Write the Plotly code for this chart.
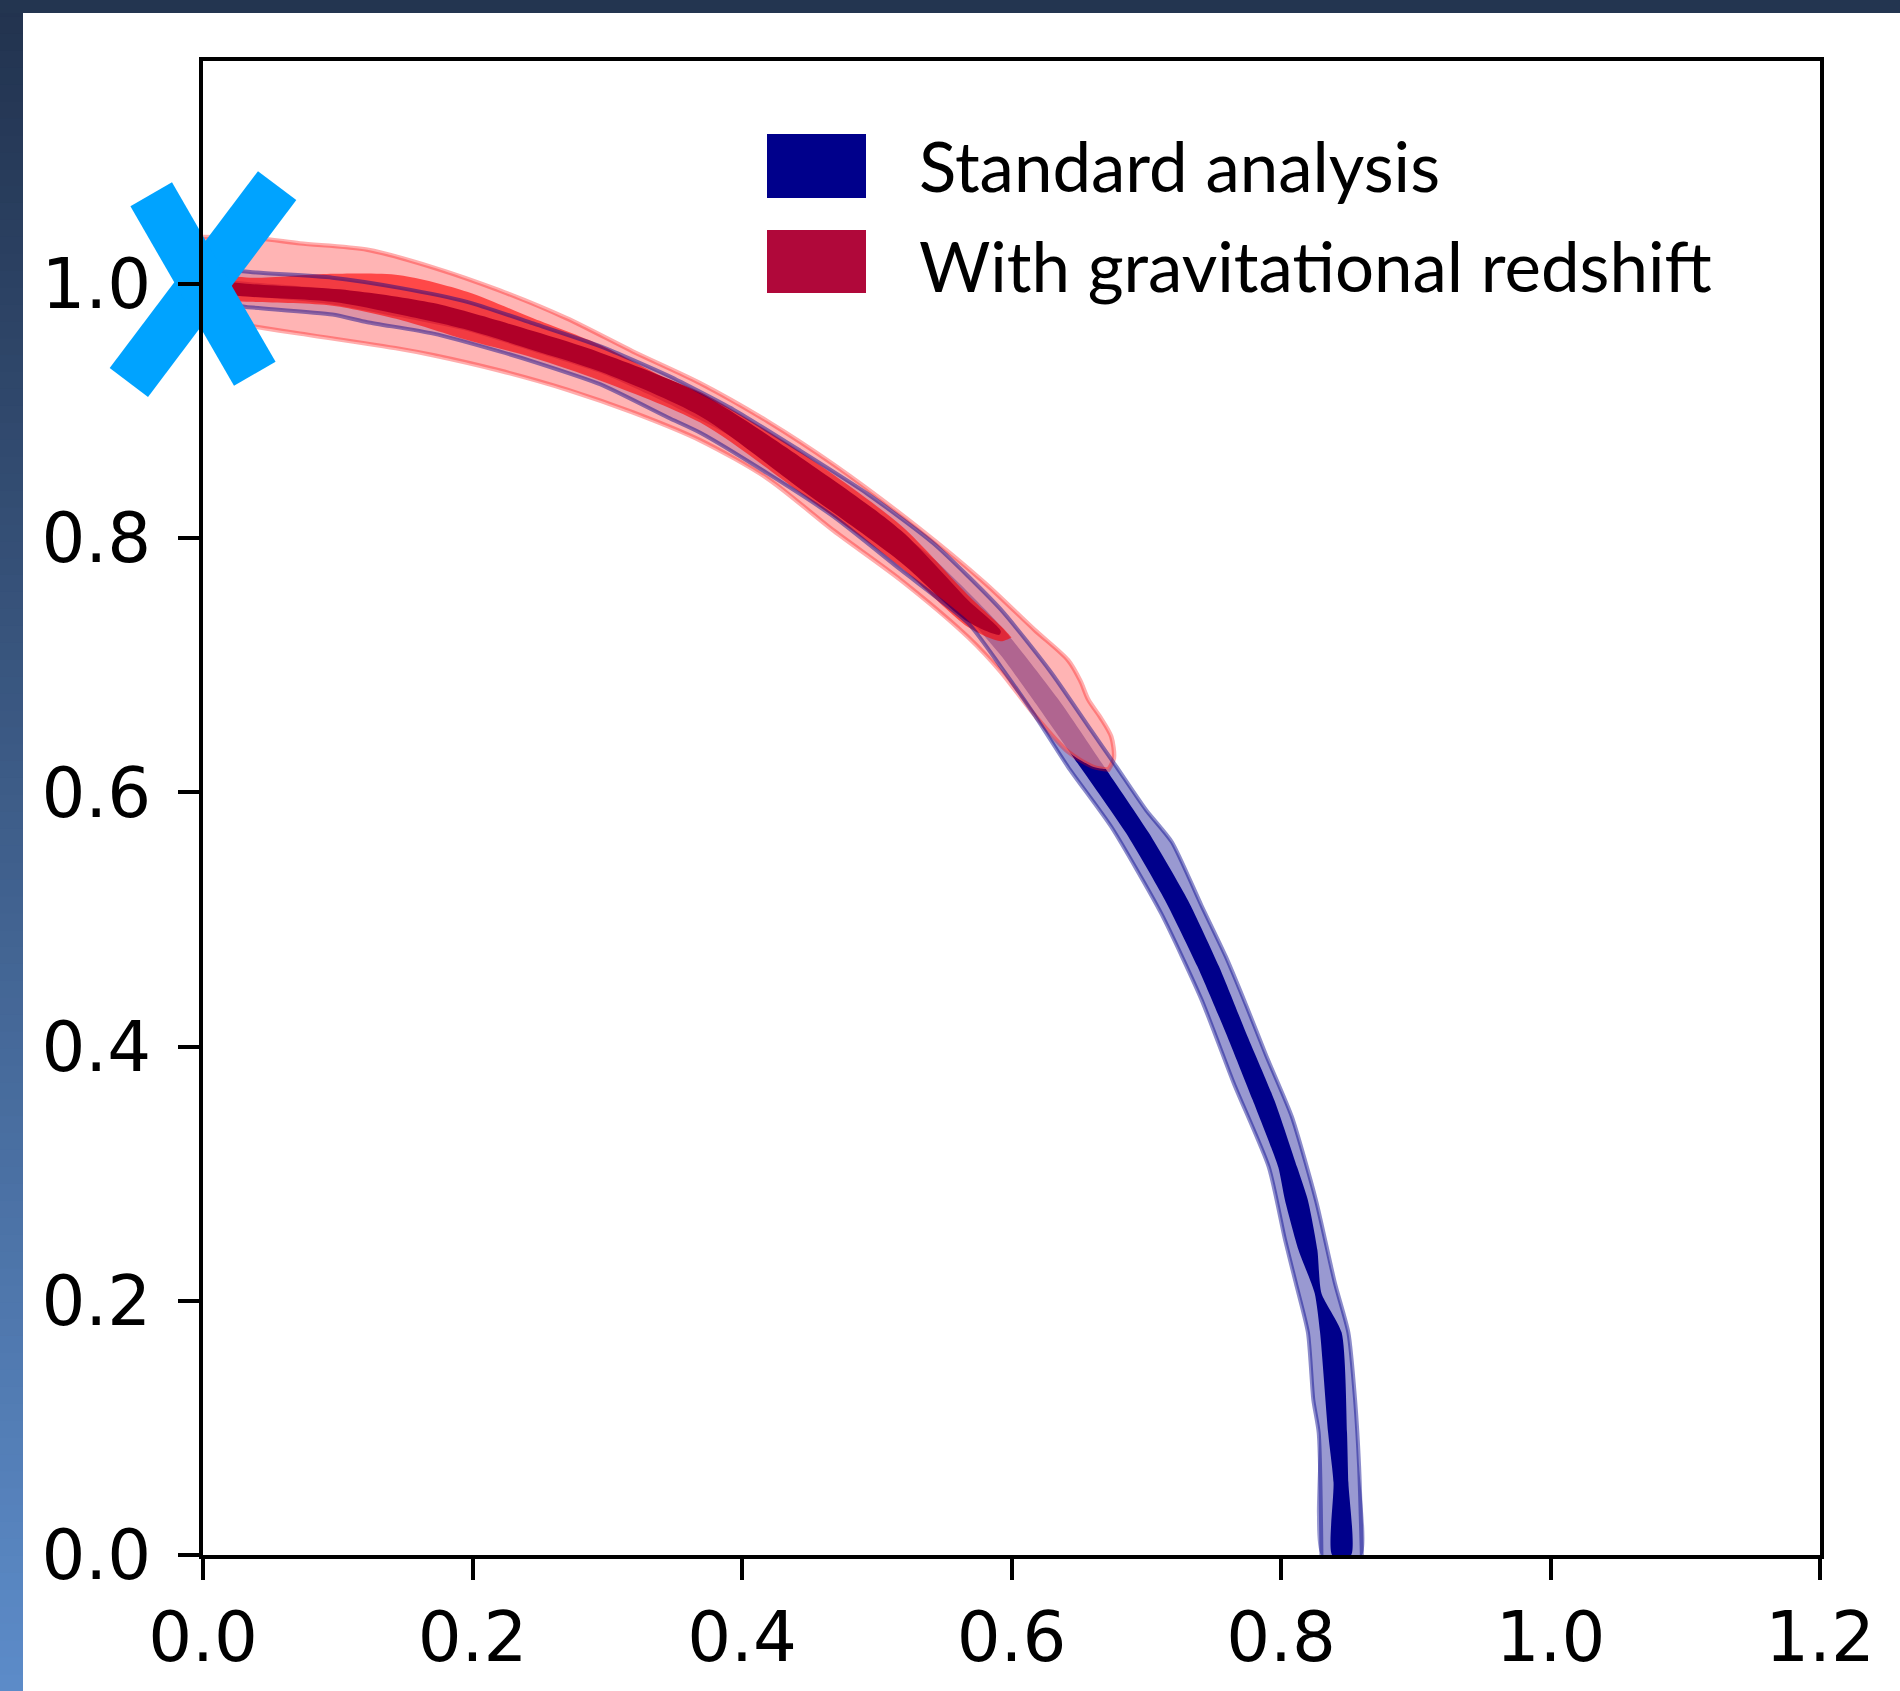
import plotly.graph_objects as go

# ---------------- data ----------------
# Standard analysis: outer (2-sigma) region edges
bo_u_x = [0.000, 0.040, 0.096, 0.146, 0.196, 0.245, 0.295, 0.345, 0.394, 0.443, 0.493, 0.542, 0.592, 0.629, 0.659, 0.678, 0.700, 0.719, 0.741, 0.759, 0.774, 0.789, 0.808, 0.826, 0.840, 0.850, 0.855, 0.858, 0.860]
bo_u_y = [1.013, 1.009, 1.005, 0.997, 0.986, 0.969, 0.951, 0.928, 0.901, 0.869, 0.835, 0.796, 0.744, 0.695, 0.649, 0.620, 0.586, 0.561, 0.511, 0.471, 0.433, 0.393, 0.345, 0.279, 0.214, 0.175, 0.122, 0.069, 0.000]
bo_l_x = [0.000, 0.032, 0.096, 0.122, 0.171, 0.220, 0.245, 0.295, 0.345, 0.369, 0.419, 0.468, 0.518, 0.568, 0.592, 0.617, 0.642, 0.674, 0.711, 0.741, 0.765, 0.791, 0.803, 0.811, 0.820, 0.824, 0.828, 0.830]
bo_l_y = [0.986, 0.982, 0.976, 0.970, 0.961, 0.947, 0.939, 0.921, 0.895, 0.883, 0.851, 0.817, 0.775, 0.733, 0.699, 0.661, 0.620, 0.573, 0.505, 0.437, 0.371, 0.305, 0.248, 0.214, 0.175, 0.122, 0.096, 0.000]

# Standard analysis: inner (1-sigma) region edges
bc_u_x = [0.000, 0.040, 0.096, 0.146, 0.196, 0.245, 0.295, 0.345, 0.394, 0.443, 0.493, 0.542, 0.592, 0.635, 0.669, 0.702, 0.731, 0.754, 0.774, 0.795, 0.812, 0.820, 0.827, 0.830, 0.845, 0.849, 0.850, 0.852]
bc_u_y = [1.005, 1.001, 0.996, 0.988, 0.977, 0.961, 0.942, 0.918, 0.891, 0.859, 0.824, 0.784, 0.731, 0.673, 0.620, 0.568, 0.515, 0.463, 0.411, 0.358, 0.305, 0.279, 0.240, 0.206, 0.175, 0.096, 0.057, 0.000]
bc_l_x = [0.000, 0.040, 0.096, 0.146, 0.196, 0.245, 0.295, 0.345, 0.394, 0.443, 0.493, 0.542, 0.592, 0.616, 0.651, 0.685, 0.714, 0.738, 0.759, 0.779, 0.798, 0.803, 0.813, 0.825, 0.829, 0.835, 0.839, 0.838]
bc_l_y = [0.993, 0.990, 0.984, 0.974, 0.963, 0.947, 0.930, 0.906, 0.879, 0.845, 0.808, 0.767, 0.708, 0.673, 0.620, 0.568, 0.515, 0.463, 0.411, 0.358, 0.305, 0.279, 0.240, 0.206, 0.175, 0.096, 0.057, 0.000]

# With gravitational redshift: outer region edges
ro_u_x = [0.000, 0.040, 0.072, 0.122, 0.171, 0.220, 0.270, 0.319, 0.369, 0.419, 0.468, 0.530, 0.580, 0.617, 0.642, 0.651, 0.657, 0.666, 0.674, 0.676, 0.672]
ro_u_y = [1.037, 1.036, 1.032, 1.027, 1.013, 0.995, 0.973, 0.947, 0.922, 0.892, 0.858, 0.809, 0.765, 0.728, 0.704, 0.688, 0.673, 0.659, 0.644, 0.627, 0.618]
ro_l_x = [0.000, 0.035, 0.072, 0.146, 0.171, 0.220, 0.270, 0.319, 0.369, 0.419, 0.468, 0.518, 0.568, 0.592, 0.617, 0.642, 0.661, 0.672]
ro_l_y = [0.973, 0.967, 0.961, 0.949, 0.944, 0.932, 0.917, 0.899, 0.877, 0.847, 0.806, 0.767, 0.722, 0.695, 0.661, 0.632, 0.620, 0.618]

# With gravitational redshift: middle region edges
rm_u_x = [0.000, 0.035, 0.092, 0.146, 0.196, 0.245, 0.295, 0.345, 0.369, 0.443, 0.518, 0.568, 0.594, 0.600]
rm_u_y = [1.009, 1.005, 1.008, 1.007, 0.994, 0.973, 0.952, 0.925, 0.915, 0.868, 0.810, 0.755, 0.729, 0.722]
rm_l_x = [0.000, 0.035, 0.096, 0.146, 0.196, 0.245, 0.295, 0.369, 0.443, 0.518, 0.568, 0.592, 0.600]
rm_l_y = [0.987, 0.986, 0.983, 0.972, 0.956, 0.942, 0.924, 0.891, 0.836, 0.777, 0.730, 0.719, 0.722]

# With gravitational redshift: core region edges
rc_u_x = [0.000, 0.035, 0.109, 0.171, 0.245, 0.295, 0.369, 0.443, 0.518, 0.568, 0.592]
rc_u_y = [1.004, 1.000, 0.995, 0.985, 0.963, 0.946, 0.914, 0.864, 0.806, 0.751, 0.727]
rc_l_x = [0.000, 0.035, 0.096, 0.146, 0.196, 0.245, 0.295, 0.369, 0.443, 0.518, 0.568, 0.591]
rc_l_y = [0.993, 0.990, 0.986, 0.976, 0.964, 0.948, 0.931, 0.896, 0.839, 0.781, 0.734, 0.724]

# reference point
marker_x = [0.0]
marker_y = [1.0]

x_ticks = [0.0, 0.2, 0.4, 0.6, 0.8, 1.0, 1.2]
y_ticks = [0.0, 0.2, 0.4, 0.6, 0.8, 1.0]
legend_labels = ["Standard analysis", "With gravitational redshift"]
legend_colors = ["#00008b", "#b0083a"]

# ---------------- figure ----------------
W, H = 1900, 1691
ML, MR, MT, MB = 203, 80, 61, 136
PW, PH = W - ML - MR, H - MT - MB


def px(X):
    return (X - ML) / PW


def py(Y):
    return (H - MB - Y) / PH


def polygon(ux, uy, lx, ly):
    return ux + lx[::-1], uy + ly[::-1]


fig = go.Figure()


def add_region(ux, uy, lx, ly, fillcolor, linecolor="rgba(0,0,0,0)", lw=0, smoothing=0.8):
    xs, ys = polygon(ux, uy, lx, ly)
    fig.add_trace(go.Scatter(
        x=xs, y=ys, mode="lines", fill="toself", fillcolor=fillcolor,
        line=dict(color=linecolor, width=lw, shape="spline", smoothing=smoothing),
        hoverinfo="skip", showlegend=False))


# standard analysis
add_region(bo_u_x, bo_u_y, bo_l_x, bo_l_y, "rgba(0,0,139,0.40)", smoothing=0.6)
add_region(bc_u_x, bc_u_y, bc_l_x, bc_l_y, "rgb(0,0,139)", smoothing=0.6)
# gravitational redshift
add_region(ro_u_x, ro_u_y, ro_l_x, ro_l_y, "rgba(255,146,146,0.69)", "rgba(255,0,0,0.32)", 4.5)
add_region(rm_u_x, rm_u_y, rm_l_x, rm_l_y, "rgba(255,0,0,0.60)")
add_region(rc_u_x, rc_u_y, rc_l_x, rc_l_y, "rgb(176,0,40)")

# outlines of the standard-analysis outer region, on top
for ex, ey in ((bo_u_x, bo_u_y), (bo_l_x, bo_l_y)):
    fig.add_trace(go.Scatter(x=ex, y=ey, mode="lines",
                             line=dict(color="rgba(0,0,139,0.45)", width=4,
                                       shape="spline", smoothing=0.6),
                             hoverinfo="skip", showlegend=False))

# reference point marker: a thick, slightly uneven cross drawn as two strokes
# (plotly's line-ns symbol has length 1.4 * size)
for size, ang in ((176, 37), (148, -30)):
    fig.add_trace(go.Scatter(
        x=marker_x, y=marker_y, mode="markers", cliponaxis=False,
        marker=dict(symbol="line-ns", size=size, angle=ang, color="#00a3ff",
                    line=dict(width=48, color="#00a3ff")),
        hoverinfo="skip", showlegend=False))

shapes = []
# decorative frame: top band and left gradient strip
N = 100
for i in range(N):
    t = i / (N - 1)
    c = (int(round(34 + (92 - 34) * t)), int(round(51 + (139 - 51) * t)), int(round(79 + (200 - 79) * t)))
    y0 = i * H / N
    y1 = (i + 1) * H / N + 1
    shapes.append(dict(type="rect", xref="paper", yref="paper",
                       x0=px(0), x1=px(23), y0=py(y1), y1=py(y0),
                       fillcolor="rgb(%d,%d,%d)" % c, line=dict(width=0), layer="below"))
shapes.append(dict(type="rect", xref="paper", yref="paper",
                   x0=px(0), x1=px(W), y0=py(13), y1=py(0),
                   fillcolor="rgb(35,53,80)", line=dict(width=0), layer="below"))

# legend patches
patch_rows = [(134, 198), (230, 293)]
text_rows = [166, 265]
annotations = []
for (t0, t1), ty, lab, col in zip(patch_rows, text_rows, legend_labels, legend_colors):
    shapes.append(dict(type="rect", xref="paper", yref="paper",
                       x0=px(767), x1=px(866), y0=py(t1), y1=py(t0),
                       fillcolor=col, line=dict(width=0), layer="above"))
    annotations.append(dict(xref="paper", yref="paper", x=px(917), y=py(ty),
                            xanchor="left", yanchor="middle", showarrow=False,
                            text=lab, font=dict(family="Lato", size=69, color="black")))

axis_common = dict(showgrid=False, zeroline=False, showline=True, linecolor="black",
                   linewidth=4, mirror=True, ticks="outside", ticklen=21, tickwidth=4,
                   tickcolor="black", automargin=False,
                   tickfont=dict(family="DejaVu Sans", size=69, color="black"))

fig.update_xaxes(range=[0, 1.2], tickvals=x_ticks, ticktext=["%.1f" % v for v in x_ticks],
                 ticklabelstandoff=-2, **axis_common)
fig.update_yaxes(range=[0, 1.1755], tickvals=y_ticks, ticktext=["%.1f" % v for v in y_ticks],
                 ticklabelstandoff=13, **axis_common)

fig.update_layout(width=W, height=H, margin=dict(l=ML, r=MR, t=MT, b=MB, pad=0, autoexpand=False),
                  paper_bgcolor="white", plot_bgcolor="white", showlegend=False,
                  shapes=shapes, annotations=annotations)

fig.write_html("out.html")
